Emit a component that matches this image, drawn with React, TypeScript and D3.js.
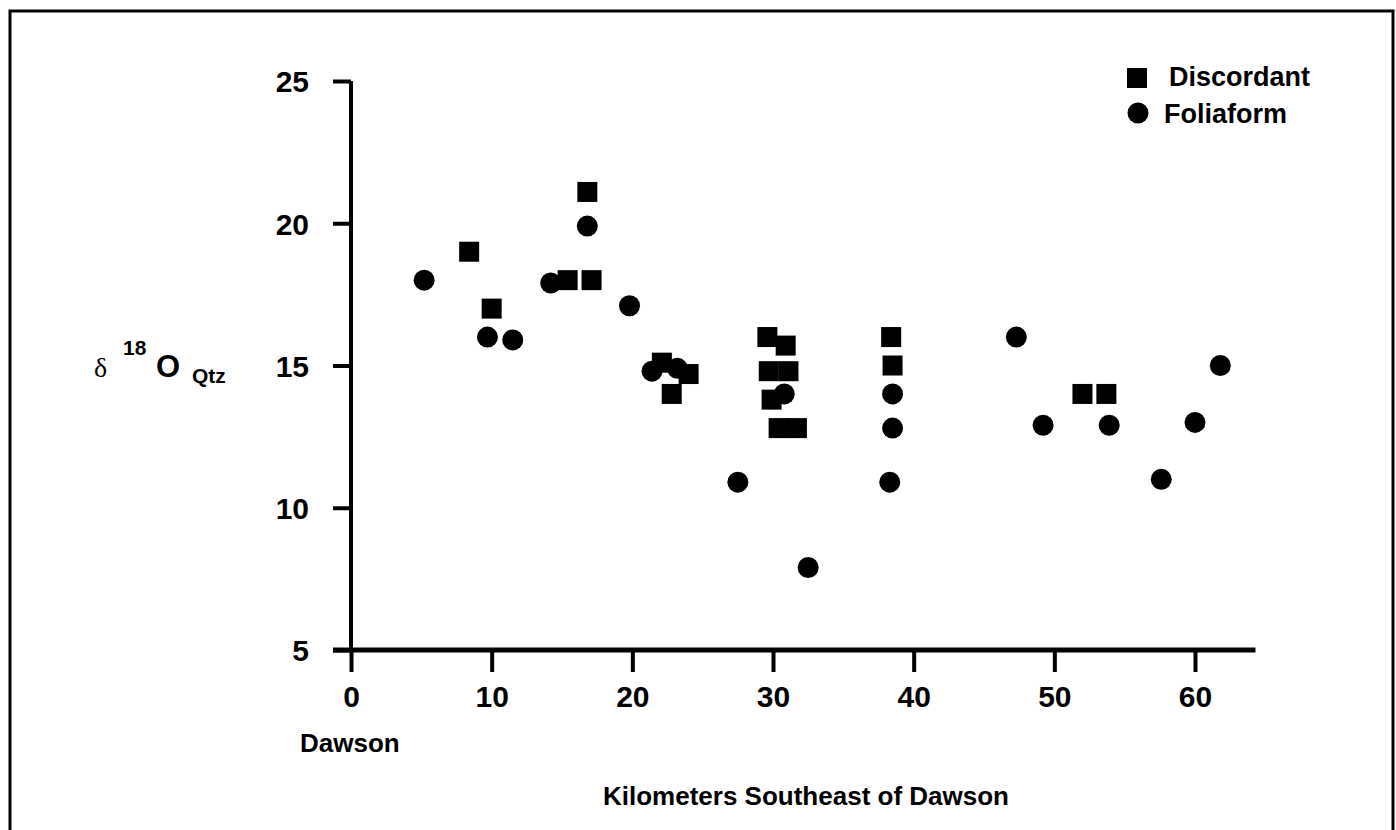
import React, { useEffect, useRef } from "react";
import * as d3 from "d3";

// distance (km SE of Dawson) and delta 18O (quartz) for each vein type
const discordantKm = [8.4, 10.0, 15.4, 17.1, 16.8, 22.1, 24.0, 22.8, 29.6, 30.9, 29.7, 31.1, 29.9, 30.4, 31.7, 38.4, 38.5, 52.0, 53.7];
const discordantD18O = [19.0, 17.0, 18.0, 18.0, 21.1, 15.1, 14.7, 14.0, 16.0, 15.7, 14.8, 14.8, 13.8, 12.8, 12.8, 16.0, 15.0, 14.0, 14.0];

const foliaformKm = [5.2, 9.7, 11.5, 14.2, 16.8, 19.8, 21.4, 23.2, 27.5, 30.8, 32.5, 38.5, 38.5, 38.3, 47.3, 49.2, 53.9, 57.6, 60.0, 61.8];
const foliaformD18O = [18.0, 16.0, 15.9, 17.9, 19.9, 17.1, 14.8, 14.9, 10.9, 14.0, 7.9, 14.0, 12.8, 10.9, 16.0, 12.9, 12.9, 11.0, 13.0, 15.0];

const xTicks = [0, 10, 20, 30, 40, 50, 60];
const yTicks = [5, 10, 15, 20, 25];

const FONT = "'Liberation Sans', Arial, Helvetica, sans-serif";

export default function App() {
  const ref = useRef<SVGSVGElement>(null);

  useEffect(() => {
    const svg = d3.select(ref.current);
    svg.selectAll("*").remove();

    const width = 1396;
    const height = 830;

    const x = d3.scaleLinear().domain([0, 60]).range([351, 1195]);
    const y = d3.scaleLinear().domain([5, 25]).range([650, 81]);

    svg.append("rect").attr("width", width).attr("height", height).attr("fill", "#fff");

    // scanned page frame (bottom edge runs off the page)
    svg
      .append("path")
      .attr("d", `M10,${height + 10} L10,11 L1393,11 L1393,${height + 10}`)
      .attr("fill", "none")
      .attr("stroke", "#000")
      .attr("stroke-width", 3);

    // y axis
    const yAxis = svg
      .append("g")
      .attr("transform", `translate(${x(0)},0)`)
      .call(d3.axisLeft(y).tickValues(yTicks).tickSize(18).tickPadding(24).tickSizeOuter(0));
    yAxis.select(".domain").attr("stroke-width", 4).attr("d", `M0,${y(25)}V${y(5)}`);
    yAxis.selectAll(".tick line").attr("stroke-width", 4);
    yAxis
      .selectAll(".tick text")
      .attr("font-family", FONT)
      .attr("font-weight", "bold")
      .attr("font-size", 30)
      .attr("dy", "0.36em");

    // x axis
    const xAxis = svg
      .append("g")
      .attr("transform", `translate(0,${y(5)})`)
      .call(d3.axisBottom(x).tickValues(xTicks).tickSize(22).tickPadding(14).tickSizeOuter(0));
    xAxis.select(".domain").attr("stroke-width", 5).attr("d", `M${x(0) - 18},0H${x(64.3)}`);
    xAxis.selectAll(".tick line").attr("stroke-width", 4);
    xAxis
      .selectAll(".tick text")
      .attr("font-family", FONT)
      .attr("font-weight", "bold")
      .attr("font-size", 30);

    svg.selectAll(".domain, .tick line").attr("stroke", "#000");
    svg.selectAll(".tick text").attr("fill", "#000");

    // points
    const sq = 20;
    svg
      .append("g")
      .selectAll("rect")
      .data(discordantKm.map((k, i) => [k, discordantD18O[i]]))
      .join("rect")
      .attr("x", (d) => x(d[0]) - sq / 2)
      .attr("y", (d) => y(d[1]) - sq / 2)
      .attr("width", sq)
      .attr("height", sq)
      .attr("fill", "#000");

    svg
      .append("g")
      .selectAll("ellipse")
      .data(foliaformKm.map((k, i) => [k, foliaformD18O[i]]))
      .join("ellipse")
      .attr("cx", (d) => x(d[0]))
      .attr("cy", (d) => y(d[1]))
      .attr("rx", 10.5)
      .attr("ry", 10.5)
      .attr("fill", "#000");

    // legend
    const legend = svg.append("g").attr("font-family", FONT).attr("font-weight", "bold").attr("font-size", 27);
    legend.append("rect").attr("x", 1127).attr("y", 68).attr("width", sq).attr("height", sq).attr("fill", "#000");
    legend.append("text").attr("x", 1169).attr("y", 86).text("Discordant");
    legend.append("circle").attr("cx", 1138).attr("cy", 113).attr("r", 10.5).attr("fill", "#000");
    legend.append("text").attr("x", 1164).attr("y", 123).text("Foliaform");

    // axis titles
    svg
      .append("text")
      .attr("x", 300)
      .attr("y", 752)
      .attr("font-family", FONT)
      .attr("font-weight", "bold")
      .attr("font-size", 26)
      .text("Dawson");
    svg
      .append("text")
      .attr("x", 603)
      .attr("y", 805)
      .attr("font-family", FONT)
      .attr("font-weight", "bold")
      .attr("font-size", 26)
      .text("Kilometers Southeast of Dawson");

    // δ18O Qtz
    const base = y(15) + 11;
    const yl = svg.append("g");
    yl.append("text")
      .attr("x", 94)
      .attr("y", base)
      .attr("font-family", "'Liberation Serif', 'Times New Roman', serif")
      .attr("font-size", 28)
      .text("δ");
    yl.append("text")
      .attr("x", 123)
      .attr("y", base - 22)
      .attr("font-family", FONT)
      .attr("font-weight", "bold")
      .attr("font-size", 21)
      .text("18");
    yl.append("text")
      .attr("x", 156)
      .attr("y", base)
      .attr("font-family", FONT)
      .attr("font-weight", "bold")
      .attr("font-size", 31)
      .text("O");
    yl.append("text")
      .attr("x", 192)
      .attr("y", base + 6)
      .attr("font-family", FONT)
      .attr("font-weight", "bold")
      .attr("font-size", 21)
      .text("Qtz");
  }, []);

  return (
    <div style={{ position: "absolute", left: 0, top: 0 }}>
      <svg ref={ref} width={1396} height={830} style={{ display: "block" }}></svg>
    </div>
  );
}
